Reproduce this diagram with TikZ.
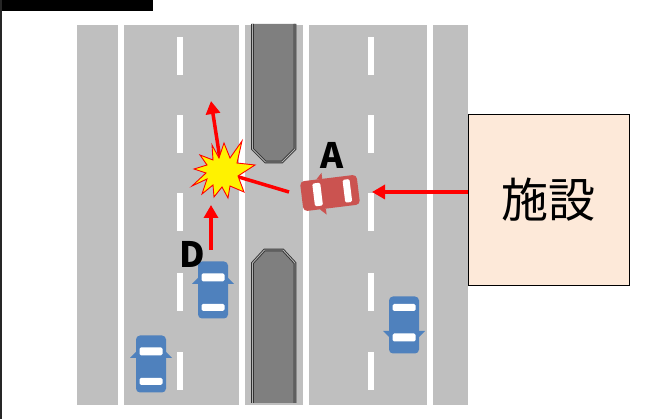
\documentclass[tikz,border=0pt]{standalone}
\usepackage{fontspec}
\newfontfamily\jpfont{Noto Sans CJK JP}
\usetikzlibrary{arrows.meta,calc}

\definecolor{roadgray}{HTML}{BFBFBF}
\definecolor{mediangray}{HTML}{7F7F7F}
\definecolor{carblue}{HTML}{4F81BD}
\definecolor{carred}{HTML}{CB5350}
\definecolor{boxpeach}{HTML}{FDE9D9}
\definecolor{hitred}{HTML}{FF0000}

\tikzset{
	redarrow/.style={draw=hitred, line width=3.5pt, -{Triangle[width=14pt,length=13pt]}},
	redline/.style={draw=hitred, line width=3.5pt},
	medianedge/.style={draw=black!80, line width=0.9pt, double=gray!60, double distance=0.9pt},
	lbl/.style={font=\jpfont\bfseries\fontsize{35}{35}\selectfont, inner sep=0pt},
	facility/.style={draw=black, line width=0.8pt, fill=boxpeach, minimum width=161pt, minimum height=171pt,
		font=\jpfont\fontsize{47}{47}\selectfont},
	% small car seen from above, front pointing up
	pics/car/.style={code={
		\fill[#1, rounded corners=4pt] (-15,-28.5) rectangle (15,28.5);
		\fill[#1] (-15,-12) -- (-21,-6) -- (-15,-6) -- cycle;
		\fill[#1] (15,-12) -- (21,-6) -- (15,-6) -- cycle;
		\fill[white, rounded corners=1.5pt] (-11.5,-16.5) rectangle (11.5,-8.5);
		\fill[white, rounded corners=1.5pt] (-11.5,14) rectangle (11.5,21);
	}}
}

\begin{document}
\begin{tikzpicture}[x=1pt, y=-1pt]

	\def\roadtop{25} \def\roadbot{405}
	\def\dashlen{38}

	% page
	\fill[white] (0,0) rectangle (646,419);
	\useasboundingbox (0,0) rectangle (646,419);
	\fill[black] (0,0) rectangle (153,11);
	\fill[black!85] (0,0) rectangle (2,419);

	% road surface
	\fill[roadgray] (77,\roadtop) rectangle (468,\roadbot);

	% solid edge lines
	\foreach \x in {118,239,303,427}
		\fill[white] (\x,\roadtop) rectangle (\x+6,\roadbot);

	% broken lane lines
	\foreach \x in {177,368}
	\foreach \y in {37,115,193,273,352}
		\fill[white] (\x,\y) rectangle (\x+6,\y+\dashlen);

	% central reservation, upper and lower part
	\fill[mediangray] (252.5,24) -- (252.5,149) -- (265.5,162) -- (282,162) -- (295,149) -- (295,24) -- cycle;
	\draw[medianedge] (252.5,24) -- (252.5,149) -- (265.5,162) -- (282,162) -- (295,149) -- (295,24);
	\fill[mediangray] (252.5,403) -- (252.5,263) -- (264.5,250) -- (283,250) -- (295,263) -- (295,403) -- cycle;
	\draw[medianedge] (252.5,403) -- (252.5,263) -- (264.5,250) -- (283,250) -- (295,263) -- (295,403);

	% cars
	\coordinate (carA) at (330,193);
	\coordinate (carD) at (213,290);
	\coordinate (carL) at (151,364);
	\coordinate (carR) at (404,325);
	\pic at (carD) {car=carblue};
	\pic at (carL) {car=carblue};
	\pic[rotate=180] at (carR) {car=carblue};
	\pic[rotate=97] at (carA) {car=carred};

	% paths of the collision
	\coordinate (blast) at (222,172);
	\coordinate (frontA) at (289,192);
	\coordinate (hitA) at (372,192);
	\coordinate (flyD) at (211,101);
	\coordinate (moveD) at (211,250);
	\coordinate (reachD) at (211,205);

	\draw[redline] (frontA) -- (blast);
	\draw[redarrow] (blast) -- (flyD);
	\draw[redarrow] (moveD) -- (reachD);

	% explosion
	\draw[fill=yellow, draw=hitred, line width=0.9pt, shift={(blast)}]
		(2,-29) -- (8,-14) -- (20,-31) -- (15,-9) -- (33,-7) -- (16,4) -- (22,20) -- (8,14)
		-- (6,26) -- (0,15) -- (-8,25) -- (-9,13) -- (-20,22) -- (-15,7) -- (-30,14) -- (-16,1)
		-- (-28,-3) -- (-15,-7) -- (-22,-17) -- (-9,-12) -- (-10,-27) -- (-3,-14) -- cycle;

	% labels
	\node[lbl] (labelA) at (332,155) {A};
	\node[lbl] (labelD) at (192,254) {D};

	% facility beside the road
	\node[facility] (facility) at (548.5,199.5) {施設};
	\draw[redarrow] (facility.west |- hitA) -- (hitA);

\end{tikzpicture}
\end{document}
